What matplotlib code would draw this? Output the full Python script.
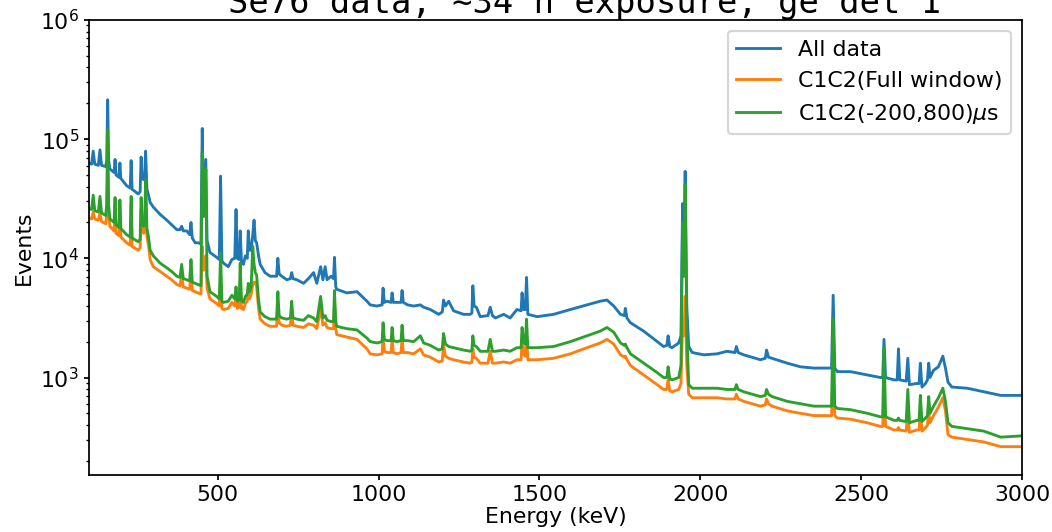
import matplotlib.pyplot as plt

# Energy grid (keV), with extra points around each line
energy_kev = [
    100, 108, 113, 118, 129, 134, 139, 152, 155, 158,
    161, 165, 178, 181, 184, 193, 196, 199, 217, 228,
    231, 234, 253, 259, 262, 265, 270, 273, 276, 280,
    285, 290, 300, 321, 342, 357, 373, 383, 388, 393,
    404, 413, 417, 421, 430, 440, 448, 452, 456, 463,
    467, 476, 497, 505, 509, 513, 518, 533, 544, 553,
    557, 561, 567, 570, 574, 580, 586, 592, 595, 599,
    604, 609, 613, 617, 621, 627, 632, 647, 663, 683,
    687, 691, 699, 715, 726, 730, 734, 746, 767, 782,
    798, 808, 820, 827, 834, 840, 852, 860, 863, 867,
    870, 901, 933, 964, 974, 995, 1011, 1014, 1018, 1026,
    1039, 1042, 1046, 1057, 1070, 1073, 1077, 1090, 1109, 1130,
    1140, 1161, 1187, 1198, 1202, 1208, 1218, 1233, 1264, 1285,
    1290, 1293, 1297, 1304, 1316, 1340, 1347, 1354, 1363, 1389,
    1409, 1430, 1443, 1446, 1451, 1456, 1460, 1464, 1493, 1544,
    1596, 1648, 1689, 1710, 1731, 1752, 1764, 1767, 1772, 1783,
    1824, 1866, 1886, 1896, 1900, 1905, 1912, 1933, 1940, 1945,
    1949, 1953, 1958, 1964, 1975, 2011, 2052, 2083, 2108, 2112,
    2118, 2135, 2187, 2202, 2206, 2212, 2223, 2270, 2311, 2353,
    2408, 2413, 2418, 2426, 2467, 2519, 2560, 2567, 2571, 2576,
    2602, 2612, 2616, 2620, 2640, 2645, 2650, 2673, 2680, 2684,
    2689, 2700, 2706, 2710, 2714, 2725, 2740, 2754, 2762, 2770,
    2782, 2830, 2881, 2934, 3000,
]

# All data
all_data = [
    63000, 61700, 79400, 61700, 60300, 81300, 60300, 58900, 66100, 214000,
    66100, 56200, 52500, 67600, 50100, 47900, 63100, 46800, 40700, 38900,
    66100, 38000, 34700, 36300, 70800, 47900, 45700, 47900, 79400, 38000,
    33900, 29500, 26900, 23400, 20900, 19100, 17400, 17400, 18600, 17000,
    17000, 15800, 20000, 14800, 13500, 13500, 13200, 123000, 24000, 67600,
    14100, 11200, 10200, 9770, 49000, 9550, 9120, 8510, 9770, 10000,
    25700, 10000, 9770, 17000, 9330, 8910, 10500, 10000, 17000, 11700,
    11700, 15800, 20900, 14100, 13500, 10500, 8910, 7590, 7080, 7080,
    10000, 7410, 7080, 6610, 6760, 7590, 6760, 6610, 6170, 6760,
    7590, 6170, 8510, 6610, 8510, 6610, 7080, 6760, 10200, 5750,
    5500, 5130, 5250, 4370, 4070, 3980, 4070, 5620, 4270, 4370,
    4270, 5130, 4270, 4270, 4270, 5370, 4270, 4070, 3980, 4070,
    3890, 3720, 3390, 3550, 4470, 3980, 4370, 3630, 3390, 3390,
    3470, 5890, 3980, 3890, 3240, 3310, 3890, 3310, 3160, 3390,
    3160, 3720, 3630, 5130, 3720, 3720, 6920, 3390, 3240, 3390,
    3720, 4070, 4370, 4470, 3980, 3390, 3310, 3800, 3160, 2880,
    2450, 2000, 1820, 1860, 2240, 1820, 1780, 1950, 2240, 28800,
    8910, 53700, 3980, 1820, 1620, 1550, 1580, 1660, 1620, 1820,
    1620, 1550, 1410, 1450, 1700, 1480, 1450, 1320, 1230, 1200,
    1200, 4900, 1200, 1120, 1120, 1050, 1000, 1000, 2090, 1000,
    955, 955, 1740, 955, 933, 1450, 871, 891, 891, 1320,
    832, 891, 955, 1320, 1000, 1150, 1230, 1510, 1200, 912,
    832, 813, 759, 708, 708,
]

# C1C2 coincidences, full window
c1c2_full = [
    21900, 21400, 24500, 21400, 20900, 24000, 20400, 19500, 23400, 56200,
    23400, 18600, 17000, 28200, 16200, 15500, 27500, 15100, 13500, 12900,
    28200, 12600, 11700, 12300, 25700, 17400, 16200, 17400, 35500, 15100,
    12900, 9770, 8510, 7760, 7080, 6610, 6030, 5890, 7240, 5750,
    5620, 5500, 7940, 5370, 5250, 5130, 5010, 12600, 7940, 10500,
    5620, 4570, 4170, 3980, 6310, 3800, 3720, 3800, 4270, 3980,
    4790, 3800, 3890, 6030, 3800, 3720, 4170, 4370, 5250, 4570,
    5010, 6030, 6310, 6310, 5750, 3800, 3090, 2820, 2690, 2690,
    4170, 2880, 2750, 2690, 2750, 3550, 2750, 2690, 2630, 2820,
    2750, 2570, 3800, 2750, 2880, 2630, 2570, 2570, 4170, 2570,
    2290, 2190, 2090, 1740, 1580, 1550, 1580, 2240, 1660, 1620,
    1620, 2090, 1620, 1580, 1620, 2140, 1620, 1620, 1580, 1740,
    1550, 1480, 1350, 1380, 1860, 1510, 1450, 1410, 1350, 1320,
    1350, 1740, 1480, 1450, 1320, 1320, 1660, 1320, 1320, 1350,
    1320, 1410, 1410, 2000, 1580, 1510, 2290, 1410, 1410, 1450,
    1580, 1780, 1950, 2090, 1910, 1550, 1480, 1510, 1410, 1260,
    1050, 871, 794, 794, 955, 776, 759, 794, 891, 2820,
    2240, 4790, 1260, 724, 676, 676, 676, 661, 661, 724,
    661, 631, 575, 589, 661, 603, 575, 525, 501, 479,
    479, 1260, 479, 457, 447, 417, 389, 389, 794, 389,
    363, 363, 380, 363, 355, 525, 347, 363, 363, 525,
    355, 380, 398, 525, 417, 479, 562, 676, 525, 331,
    316, 302, 288, 263, 263,
]

# C1C2 coincidences, (-200, 800) us window
c1c2_window = [
    26300, 25700, 33900, 25100, 24500, 33100, 24000, 22900, 28200, 120000,
    28200, 21400, 20000, 32400, 19100, 18200, 30900, 17800, 15800, 15100,
    33100, 14800, 13800, 14500, 32400, 20000, 18600, 20000, 45700, 17800,
    15100, 11700, 10500, 9120, 8320, 7760, 7080, 6920, 8910, 6760,
    6610, 6460, 9770, 6310, 6170, 6030, 5890, 77600, 22400, 56200,
    7080, 5250, 4790, 4570, 11200, 4370, 4270, 4370, 4900, 4570,
    5750, 4370, 4470, 9120, 4370, 4270, 4790, 5010, 6170, 5250,
    5750, 12600, 8910, 7590, 7240, 4470, 3550, 3240, 3090, 3090,
    5250, 3310, 3160, 3090, 3160, 4370, 3160, 3090, 3020, 3310,
    3160, 2950, 4790, 3160, 3310, 3020, 2950, 2950, 5370, 2950,
    2690, 2570, 2510, 2140, 2000, 1950, 2000, 2880, 2090, 2040,
    2040, 2630, 2040, 2000, 2040, 2750, 2040, 2040, 2000, 2240,
    1950, 1860, 1700, 1740, 2340, 1910, 1820, 1780, 1700, 1660,
    1700, 2240, 1860, 1820, 1660, 1660, 2090, 1660, 1660, 1700,
    1660, 1780, 1780, 2630, 2000, 1910, 3090, 1780, 1780, 1820,
    2000, 2240, 2450, 2630, 2400, 1950, 1860, 1910, 1780, 1580,
    1320, 1100, 1000, 1000, 1230, 977, 955, 1000, 1260, 20000,
    7080, 41700, 2510, 871, 813, 813, 813, 794, 794, 871,
    794, 759, 692, 708, 794, 724, 692, 631, 603, 575,
    575, 3160, 575, 550, 537, 501, 468, 468, 1820, 468,
    437, 437, 457, 437, 427, 794, 417, 437, 437, 708,
    427, 457, 479, 692, 501, 575, 676, 813, 631, 417,
    389, 372, 355, 316, 324,
]

fig = plt.figure(figsize=(1052 / 158, 532 / 158), dpi=158)
ax = fig.add_axes([0.0846, 0.1071, 0.8869, 0.8553])

ax.plot(energy_kev, all_data, lw=1.3, label="All data")
ax.plot(energy_kev, c1c2_full, lw=1.3, label="C1C2(Full window)")
ax.plot(energy_kev, c1c2_window, lw=1.3, label=r"C1C2(-200,800)$\mu$s")

ax.set_yscale("log")
ax.set_xlim(100, 3000)
ax.set_ylim(152, 1e6)
ax.tick_params(which="major", length=2.5, pad=2)
ax.tick_params(which="minor", length=1.5)
ax.set_xlabel("Energy (keV)", labelpad=1)
ax.set_ylabel("Events", labelpad=3)
ax.legend(loc="upper right")

# title sits partly above the top edge, as in the original crop
fig.text(0.5556, 1 - 13 / 532, "Se76 data, ~34 h exposure, ge det 1",
         family="DejaVu Sans Mono", fontsize=15.4, ha="center", va="baseline")

fig.savefig("out.png", dpi=158)
